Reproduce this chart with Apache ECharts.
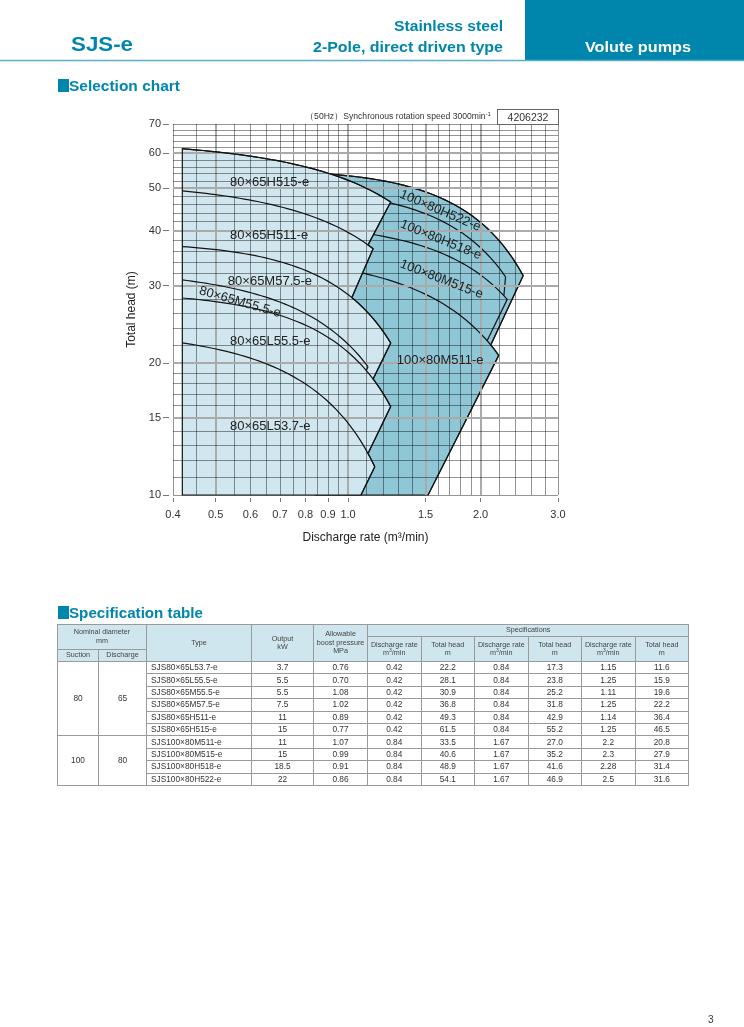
<!DOCTYPE html>
<html><head><meta charset="utf-8">
<script src="https://cdn.jsdelivr.net/npm/echarts@6/dist/echarts.min.js"></script>
<style>
html,body{margin:0;padding:0;background:#fff;}
body{width:744px;height:1027px;position:relative;overflow:hidden;font-family:'Liberation Sans',Arial,sans-serif;}
#chart{position:absolute;left:0;top:100px;width:744px;height:460px;}
#ov{position:absolute;left:0;top:0;}
#spec{position:absolute;left:57px;top:624px;width:632px;border-collapse:collapse;table-layout:fixed;color:#333;}
#spec td{border:1px solid #9a9a9a;padding:0;text-align:center;overflow:hidden;white-space:nowrap;font-size:8.3px;line-height:9px;}
#spec thead td{background:#cfe6ee;font-size:7.2px;line-height:8.4px;color:#444;}
#spec td.t{text-align:left;padding-left:4px;}
</style></head>
<body>
<div id="chart"></div>
<svg id="ov" width="744" height="1027" xmlns="http://www.w3.org/2000/svg" font-family="'Liberation Sans', Arial, sans-serif">
  <rect x="525" y="0" width="219" height="60" fill="#0086ad"/>
  <line x1="0" y1="60.5" x2="744" y2="60.5" stroke="#5aaec8" stroke-width="1.6"/>
  <text x="71" y="51" font-size="21" font-weight="bold" fill="#0086ad" textLength="62" lengthAdjust="spacingAndGlyphs">SJS-e</text>
  <text x="394" y="31" font-size="15" font-weight="bold" fill="#0086ad" textLength="109" lengthAdjust="spacingAndGlyphs">Stainless steel</text>
  <text x="313" y="52" font-size="15" font-weight="bold" fill="#0086ad" textLength="190" lengthAdjust="spacingAndGlyphs">2-Pole, direct driven type</text>
  <text x="585" y="52" font-size="15" font-weight="bold" fill="#ffffff" textLength="106" lengthAdjust="spacingAndGlyphs">Volute pumps</text>
  <rect x="58" y="79" width="11" height="13" fill="#0086ad"/>
  <text x="69" y="91" font-size="14" font-weight="bold" fill="#0086ad" textLength="111" lengthAdjust="spacingAndGlyphs">Selection chart</text>
  <rect x="58" y="606" width="11" height="13" fill="#0086ad"/>
  <text x="69" y="618" font-size="14" font-weight="bold" fill="#0086ad" textLength="134" lengthAdjust="spacingAndGlyphs">Specification table</text>
  <text x="305" y="119" font-size="8.5" fill="#333" textLength="186" lengthAdjust="spacingAndGlyphs">（50Hz）Synchronous rotation speed 3000min<tspan font-size="6" dy="-3">-1</tspan></text>
  <rect x="497.5" y="109.5" width="61" height="15" fill="#fff" stroke="#666" stroke-width="1"/>
  <text x="528" y="121" font-size="10.5" fill="#333" text-anchor="middle">4206232</text>
  <text x="708" y="1023" font-size="10" fill="#333">3</text>
</svg>
<table id="spec"></table>
<script>
// ---------------- data ----------------
const TYPES = ['SJS80×65L53.7-e','SJS80×65L55.5-e','SJS80×65M55.5-e','SJS80×65M57.5-e','SJS80×65H511-e','SJS80×65H515-e','SJS100×80M511-e','SJS100×80M515-e','SJS100×80H518-e','SJS100×80H522-e'];
const GROUP = [0,0,0,0,0,0,1,1,1,1];
const SUCTION = ['80','100'];
const DISCHARGE = ['65','80'];
const OUTPUT = ['3.7','5.5','5.5','7.5','11','15','11','15','18.5','22'];
const BOOST = ['0.76','0.70','1.08','1.02','0.89','0.77','1.07','0.99','0.91','0.86'];
const Q1 = ['0.42','0.42','0.42','0.42','0.42','0.42','0.84','0.84','0.84','0.84'];
const H1 = ['22.2','28.1','30.9','36.8','49.3','61.5','33.5','40.6','48.9','54.1'];
const Q2 = ['0.84','0.84','0.84','0.84','0.84','0.84','1.67','1.67','1.67','1.67'];
const H2 = ['17.3','23.8','25.2','31.8','42.9','55.2','27.0','35.2','41.6','46.9'];
const Q3 = ['1.15','1.25','1.11','1.25','1.14','1.25','2.2','2.3','2.28','2.5'];
const H3 = ['11.6','15.9','19.6','22.2','36.4','46.5','20.8','27.9','31.4','31.6'];
// lower limit line of each range: ends on curve BOUND_TO at discharge BOUND_Q (-1 = on the 10 m floor)
const BOUND_TO = [-1,0,1,1,3,4,-1,6,7,6];
const BOUND_Q = [1.07,1.11,1.10,1.14,1.02,1.11,1.52,2.07,2.26,2.11];
// axes
const X_TICKS = [0.4,0.5,0.6,0.7,0.8,0.9,1.0,1.5,2.0,3.0];
const Y_TICKS = [10,15,20,30,40,50,60,70];
const X_GRID_MINOR = [0.4,0.45,0.55,0.6,0.65,0.7,0.75,0.8,0.85,0.9,0.95,1.1,1.2,1.3,1.4,1.6,1.7,1.8,1.9,2.2,2.4,2.6,2.8,3.0];
const X_GRID_MAJOR = [0.5,1.0,1.5,2.0];
const Y_GRID_MINOR = [10,11,12,13,14,16,17,18,19,22,24,26,28,32,34,36,38,42,44,46,48,52,54,56,58,62,64,66,68,70];
const Y_GRID_MAJOR = [15,20,30,40,50,60];

// ---------------- table ----------------
(function(){
  const t = document.getElementById('spec');
  const widths = [41,48,105,62,54,53.5,53.5,53.5,53.5,53.5,53.5];
  let h = '<colgroup>' + widths.map(w=>'<col style="width:'+w+'px">').join('') + '</colgroup>';
  h += '<thead><tr style="height:12px"><td colspan="2" rowspan="2">Nominal diameter<br>mm</td><td rowspan="3">Type</td><td rowspan="3">Output<br>kW</td><td rowspan="3">Allowable<br>boost pressure<br>MPa</td><td colspan="6">Specifications</td></tr>';
  h += '<tr style="height:12.5px">';
  for (let k=0;k<3;k++) h += '<td rowspan="2">Discharge rate<br>m<sup style="font-size:5px;vertical-align:3px;line-height:0">3</sup>/min</td><td rowspan="2">Total head<br>m</td>';
  h += '</tr><tr style="height:12.5px"><td>Suction</td><td>Discharge</td></tr></thead><tbody>';
  for (let i=0;i<TYPES.length;i++){
    h += '<tr style="height:12.4px">';
    if (i===0 || GROUP[i]!==GROUP[i-1]) {
      const n = GROUP.filter(g=>g===GROUP[i]).length;
      h += '<td rowspan="'+n+'">'+SUCTION[GROUP[i]]+'</td><td rowspan="'+n+'">'+DISCHARGE[GROUP[i]]+'</td>';
    }
    h += '<td class="t">'+TYPES[i]+'</td><td>'+OUTPUT[i]+'</td><td>'+BOOST[i]+'</td><td>'+Q1[i]+'</td><td>'+H1[i]+'</td><td>'+Q2[i]+'</td><td>'+H2[i]+'</td><td>'+Q3[i]+'</td><td>'+H3[i]+'</td></tr>';
  }
  t.innerHTML = h + '</tbody>';
})();

// ---------------- chart ----------------
const num = a => a.map(Number);
const q1 = num(Q1), h1 = num(H1), q2 = num(Q2), h2 = num(H2), q3 = num(Q3), h3 = num(H3);
const LIGHT_FILL = '#d0e7ef', DARK_FILL = '#8fc7d7', LINE = '#141414';

function headAt(i, q){ // smooth pump curve through the three rated points of model i
  const xs=[q1[i],q2[i],q3[i]], ys=[h1[i],h2[i],h3[i]];
  let s=0;
  for (let a=0;a<3;a++){ let l=1; for (let b=0;b<3;b++) if (b!==a) l*=(q-xs[b])/(xs[a]-xs[b]); s+=l*ys[a]; }
  return s;
}
function curvePts(api, i, qa, qb){
  const n=40, pts=[], la=Math.log(qa), lb=Math.log(qb);
  for (let k=0;k<=n;k++){ const q=Math.exp(la+(lb-la)*k/n); pts.push(api.coord([q, headAt(i,q)])); }
  return pts;
}
function outline(api, top){
  let pts=[api.coord([q1[top],10])];
  let i=top, qs=q1[top];
  for (let guard=0; guard<12; guard++){
    pts = pts.concat(curvePts(api,i,qs,q3[i]));
    const to = BOUND_TO[i];
    if (to<0){ pts.push(api.coord([BOUND_Q[i],10])); break; }
    qs = BOUND_Q[i]; i = to;
  }
  return pts;
}
function topOf(g){ let t=-1,hm=-1; GROUP.forEach((gg,i)=>{ if(gg===g && h1[i]>hm){hm=h1[i];t=i;} }); return t; }
function strokes(api, g){
  const out=[], st={fill:'none', stroke:LINE, lineWidth:1.2};
  out.push({type:'polygon', shape:{points:outline(api,topOf(g))}, style:st});
  GROUP.forEach((gg,i)=>{
    if (gg!==g) return;
    out.push({type:'polyline', shape:{points:curvePts(api,i,q1[i],q3[i])}, style:st});
    const end = api.coord([q3[i],h3[i]]);
    const tgt = BOUND_TO[i]<0 ? api.coord([BOUND_Q[i],10]) : api.coord([BOUND_Q[i], headAt(BOUND_TO[i],BOUND_Q[i])]);
    out.push({type:'polyline', shape:{points:[end,tgt]}, style:st});
  });
  return out;
}

const chart = echarts.init(document.getElementById('chart'));
const gridLine = (vertical) => function(params, api){
  const v = api.value(vertical?0:1), major = api.value(2)===1;
  let p1, p2;
  if (vertical){ p1=api.coord([v,10]); p2=api.coord([v,70]); }
  else { p1=api.coord([0.4,v]); p2=api.coord([3,v]); }
  const w = major?2:1, off = major?0:0.5;
  if (vertical){ const x=Math.round(p1[0])+off; p1=[x,p1[1]]; p2=[x,p2[1]]; }
  else { const y=Math.round(p1[1])+off; p1=[p1[0],y]; p2=[p2[0],y]; }
  return {type:'line', shape:{x1:p1[0],y1:p1[1],x2:p2[0],y2:p2[1]},
    style:{stroke: major?'#aaaaaa':'rgba(0,0,0,0.42)', lineWidth:w}};
};

const LABEL_FONT = "13px 'Liberation Sans', Arial, sans-serif";
const chartLabels = [
  {i:5, q:0.539, h:51.6, rot:0, align:'left'},
  {i:4, q:0.539, h:39.1, rot:0, align:'left'},
  {i:3, q:0.533, h:30.6, rot:0, align:'left'},
  {i:2, q:0.568, h:27.5, rot:-16, align:'center'},
  {i:1, q:0.539, h:22.4, rot:0, align:'left'},
  {i:0, q:0.539, h:14.3, rot:0, align:'left'},
  {i:9, q:1.62, h:44.4, rot:-23, align:'center'},
  {i:8, q:1.625, h:38.1, rot:-22, align:'center'},
  {i:7, q:1.63, h:31.0, rot:-21, align:'center'},
  {i:6, q:1.29, h:20.3, rot:0, align:'left'}
];

chart.setOption({
  animation:false,
  grid:{left:173, top:24, width:385, height:371},
  xAxis:{type:'log', logBase:10, min:0.4, max:3, offset:3,
    axisLine:{show:false},
    axisTick:{show:true, length:4, customValues:X_TICKS, lineStyle:{color:'#777'}},
    axisLabel:{customValues:X_TICKS, formatter:v=>Number(v).toFixed(1), margin:11, color:'#333', fontSize:11, fontFamily:'Liberation Sans'},
    splitLine:{show:false}, minorTick:{show:false},
    name:'Discharge rate (m³/min)', nameLocation:'middle', nameGap:34,
    nameTextStyle:{color:'#222', fontSize:12, fontFamily:'Liberation Sans'}},
  yAxis:{type:'log', logBase:10, min:10, max:70, offset:4,
    axisLine:{show:false},
    axisTick:{show:true, length:6, customValues:Y_TICKS, lineStyle:{color:'#777'}},
    axisLabel:{customValues:Y_TICKS, formatter:v=>String(Math.round(v)), margin:8, color:'#333', fontSize:11, fontFamily:'Liberation Sans'},
    splitLine:{show:false},
    name:'Total head (m)', nameLocation:'middle', nameGap:30,
    nameTextStyle:{color:'#222', fontSize:12, fontFamily:'Liberation Sans'}},
  series:[
    {type:'custom', z:1, silent:true, data:[[1,10]], renderItem:(p,api)=>{
      const ch=[{type:'polygon', shape:{points:outline(api,topOf(1))}, style:{fill:DARK_FILL}}];
      strokes(api,1).forEach(c=>ch.push(c));
      ch.push({type:'polygon', shape:{points:outline(api,topOf(0))}, style:{fill:LIGHT_FILL}});
      return {type:'group', children:ch};
    }},
    {type:'custom', z:2, silent:true, renderItem:gridLine(true),
      data: X_GRID_MINOR.map(v=>[v,10,0]).concat(X_GRID_MAJOR.map(v=>[v,10,1]))},
    {type:'custom', z:2, silent:true, renderItem:gridLine(false),
      data: Y_GRID_MINOR.map(v=>[0.4,v,0]).concat(Y_GRID_MAJOR.map(v=>[0.4,v,1]))},
    {type:'custom', z:3, silent:true, data:[[1,10]], renderItem:(p,api)=>({type:'group', children:strokes(api,0)})},
    {type:'custom', z:4, silent:true, data:chartLabels.map(l=>[l.q,l.h]), renderItem:(p,api)=>{
      const l = chartLabels[p.dataIndex];
      const c = api.coord([l.q,l.h]);
      return {type:'text', x:c[0], y:c[1], rotation:l.rot*Math.PI/180,
        style:{text:TYPES[l.i].replace(/^SJS/,''), font:LABEL_FONT, fill:'#222',
          align:l.align, verticalAlign:'middle', textAlign:l.align, textVerticalAlign:'middle'}};
    }}
  ]
});
</script>
</body></html>
